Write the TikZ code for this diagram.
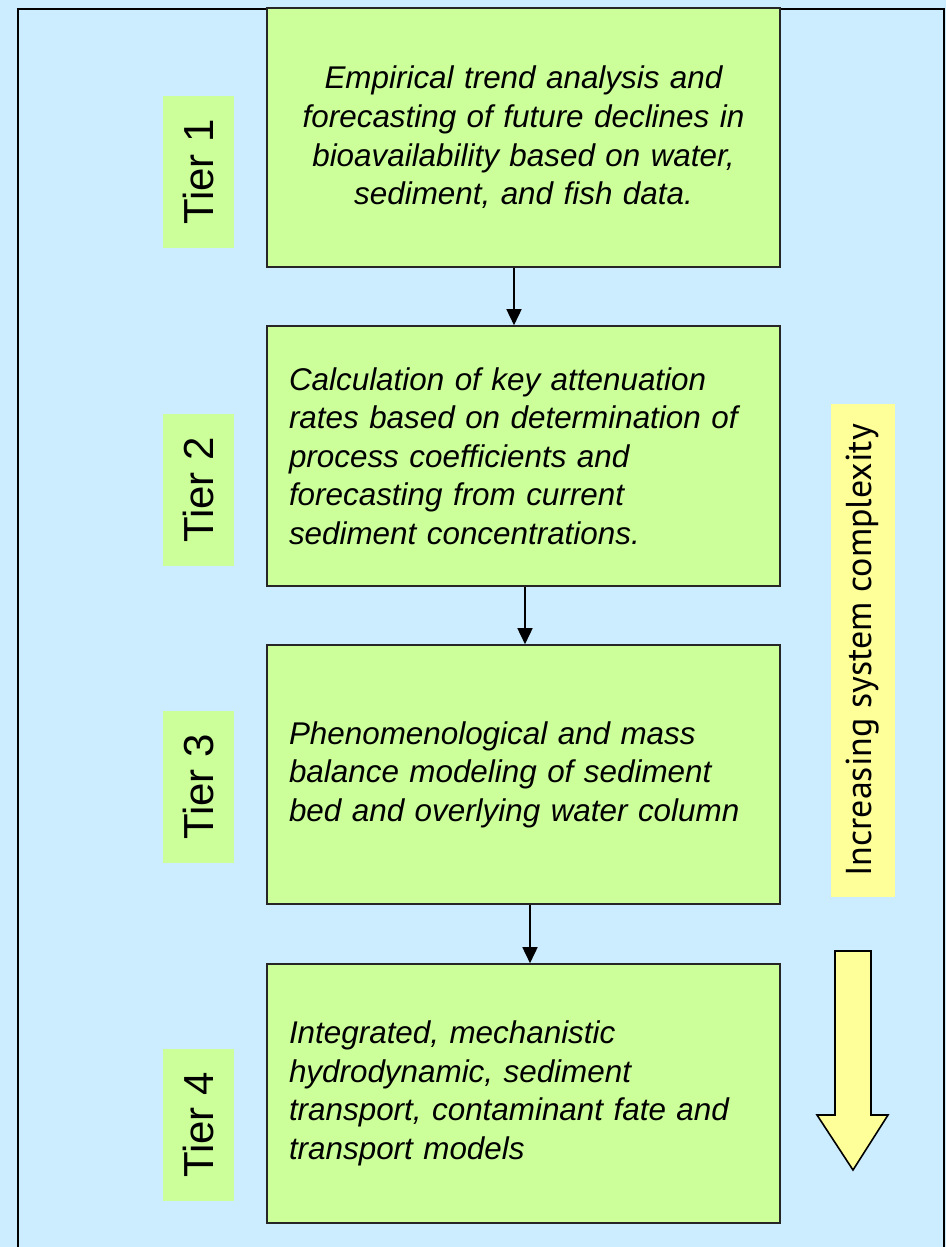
\documentclass[tikz,border=0pt]{standalone}
\usepackage{fontspec}
\setmainfont{Liberation Sans}
\newfontfamily\humfont{PT Sans}
\usetikzlibrary{arrows.meta}
\definecolor{bgblue}{HTML}{CCECFF}
\definecolor{boxgreen}{HTML}{CCFF99}
\definecolor{softyellow}{HTML}{FFFF99}
\tikzset{
  tierbox/.style={draw=black!85, line width=1.6pt, fill=boxgreen, minimum width=513pt,
    minimum height=259pt, text width=469pt, inner xsep=22pt, inner ysep=0pt,
    font=\itshape\fontsize{31.4}{38.6}\selectfont},
  tierlabel/.style={fill=boxgreen, minimum width=71pt, minimum height=152pt, inner sep=0pt},
  tiertext/.style={rotate=90, font=\fontsize{42}{48}\selectfont, inner sep=0pt},
  arr/.style={line width=1.6pt, -{Triangle[width=15pt,length=16pt]}}
}
\begin{document}
\begin{tikzpicture}[x=1pt,y=-1pt]
\useasboundingbox (0,0) rectangle (946,1247);
\fill[bgblue] (0,0) rectangle (946,1247);
\begin{scope}
\clip (0,0) rectangle (946,1247);
\draw[line width=2.6pt] (18,1260) -- (18,9) -- (944,9) -- (944,1260);
\end{scope}

\node[tierbox, align=center] (b1) at (523.5,137.5) {Empirical trend analysis and\\ forecasting of future declines in\\ bioavailability based on water,\\ sediment, and fish data.};
\node[tierbox, align=left, minimum height=260pt] (b2) at (523.5,456) {Calculation of key attenuation\\ rates based on determination of\\ process coefficients and\\ forecasting from current\\ sediment concentrations.};
\node[tierbox, align=left] (b3) at (523.5,774.5) {Phenomenological and mass\\ balance modeling of sediment\\ bed and overlying water column};
\node[tierbox, align=left] (b4) at (523.5,1093.5) {Integrated, mechanistic\\ hydrodynamic, sediment\\ transport, contaminant fate and\\ transport models};

\node[tierlabel] (l1) at (198,172) {};
\node[tiertext] (t1) at (l1.center) {Tier 1};
\node[tierlabel] (l2) at (198,490) {};
\node[tiertext] (t2) at (l2.center) {Tier 2};
\node[tierlabel] (l3) at (198,787) {};
\node[tiertext] (t3) at (l3.center) {Tier 3};
\node[tierlabel] (l4) at (198,1125) {};
\node[tiertext] (t4) at (l4.center) {Tier 4};

\draw[arr] ([xshift=-9.5pt]b1.south) -- ([xshift=-9.5pt]b2.north);
\draw[arr] ([xshift=1.5pt]b2.south) -- ([xshift=1.5pt]b3.north);
\draw[arr] ([xshift=6.5pt]b3.south) -- ([xshift=6.5pt]b4.north);

\node[fill=softyellow, minimum width=64pt, minimum height=493pt, inner sep=0pt] (cx) at (863,650.5) {};
\node[rotate=90, inner sep=0pt, font=\humfont\fontsize{36}{40}\selectfont] (cxt) at (cx.center) {Increasing system complexity};

\draw[fill=softyellow, line width=1.6pt, line join=miter]
  (835,951) -- (871,951) -- (871,1115) -- (888,1115) -- (853,1170) -- (817,1115) -- (835,1115) -- cycle;
\end{tikzpicture}
\end{document}
